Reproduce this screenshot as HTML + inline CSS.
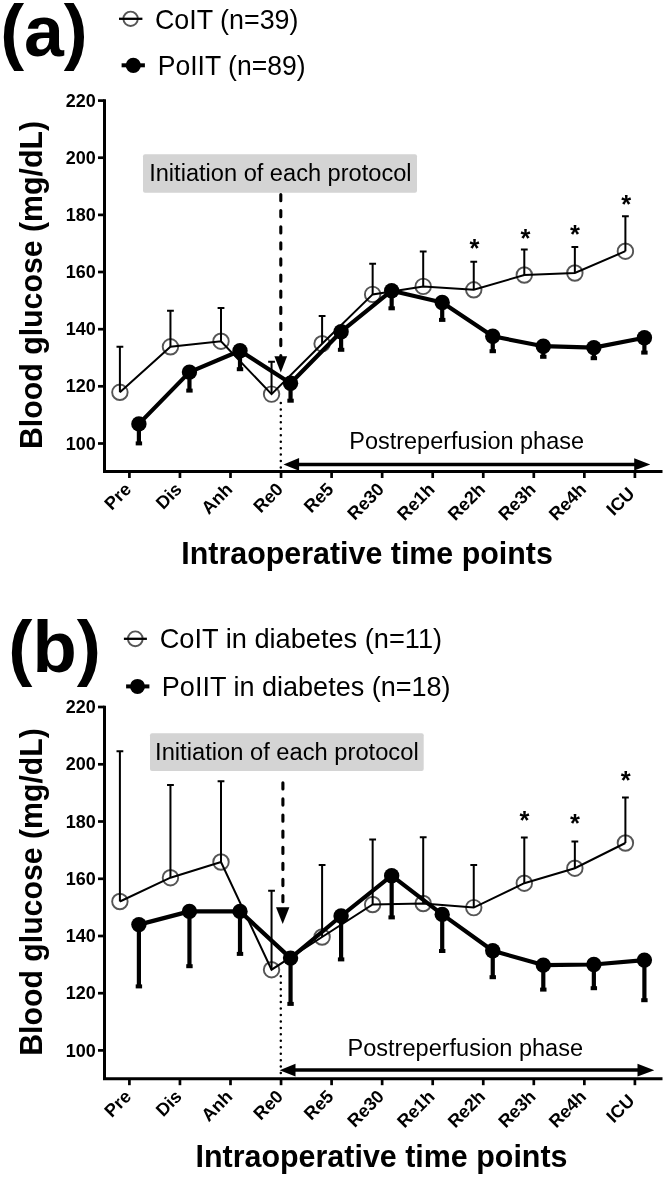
<!DOCTYPE html>
<html><head><meta charset="utf-8"><style>
html,body{margin:0;padding:0;background:#fff;}
svg{display:block;will-change:transform;}
text{font-family:"Liberation Sans", sans-serif;fill:#000;}
.yt{font-weight:bold;font-size:18px;}
.xt{font-weight:bold;font-size:18px;}
.star{font-size:25.5px;font-weight:bold;}
.lbl{font-weight:bold;font-size:71px;}
.leg{font-size:26px;}
.ttl{font-weight:bold;font-size:30px;}
.note{font-size:23px;}
</style></head><body>
<svg width="666" height="1177" viewBox="0 0 666 1177">
<rect width="666" height="1177" fill="#fff"/>
<!-- chart a -->
<text transform="translate(0.17,56.30) scale(1,1.0)" class="lbl" style="font-size:71.65px">(a)</text>
<circle cx="130.6" cy="18.8" r="7.2" fill="none" stroke="#555555" stroke-width="1.9"/>
<line x1="119" y1="18.8" x2="142.4" y2="18.8" stroke="#000" stroke-width="2.3"/>
<text transform="translate(154.96,28.70) scale(1,1.04)" class="leg" style="font-size:26.86px">CoIT (n=39)</text>
<line x1="121.6" y1="65.3" x2="144.9" y2="65.3" stroke="#000" stroke-width="4"/>
<circle cx="133.3" cy="65.3" r="7.6" fill="#000"/>
<text transform="translate(157.78,74.70) scale(1,1.04)" class="leg" style="font-size:26.54px">PoIIT (n=89)</text>
<rect x="143" y="154.3" width="274" height="38.5" rx="2" fill="#d4d4d4"/>
<text transform="translate(149.17,181.10) scale(1,1.04)" class="note" style="font-size:23.62px">Initiation of each protocol</text>
<line x1="280.8" y1="194.5" x2="280.8" y2="358" stroke="#000" stroke-width="3.1" stroke-dasharray="6.2,9.9" stroke-linecap="round"/>
<path d="M274.4 356.3 H287.1 L280.8 372.5 Z" fill="#000"/>
<line x1="280.8" y1="403" x2="280.8" y2="470" stroke="#000" stroke-width="2.5" stroke-dasharray="0,6.45" stroke-linecap="round"/>
<text transform="translate(349.32,448.50) scale(1,1.04)" class="note" style="font-size:23.46px">Postreperfusion phase</text>
<path d="M296 464.5 H636" stroke="#000" stroke-width="3.3"/>
<path d="M283.5 464.4 L299.1 458.1 V470.7 Z M650.3 464.4 L634.2 458.2 V470.6 Z" fill="#000"/>
<text transform="translate(41.70,449.02) rotate(-90) scale(1,1.04)" class="ttl" style="font-size:30.29px">Blood glucose (mg/dL)</text>
<text transform="translate(181.37,563.90) scale(1,1.04)" class="ttl" style="font-size:30.40px">Intraoperative time points</text>
<line x1="98" y1="100.6" x2="104.5" y2="100.6" stroke="#000" stroke-width="2.7"/>
<text transform="translate(95.8,106.7) scale(1,1.04)" class="yt" text-anchor="end">220</text>
<line x1="98" y1="157.7" x2="104.5" y2="157.7" stroke="#000" stroke-width="2.7"/>
<text transform="translate(95.8,163.8) scale(1,1.04)" class="yt" text-anchor="end">200</text>
<line x1="98" y1="214.9" x2="104.5" y2="214.9" stroke="#000" stroke-width="2.7"/>
<text transform="translate(95.8,221) scale(1,1.04)" class="yt" text-anchor="end">180</text>
<line x1="98" y1="272" x2="104.5" y2="272" stroke="#000" stroke-width="2.7"/>
<text transform="translate(95.8,278.1) scale(1,1.04)" class="yt" text-anchor="end">160</text>
<line x1="98" y1="329.2" x2="104.5" y2="329.2" stroke="#000" stroke-width="2.7"/>
<text transform="translate(95.8,335.3) scale(1,1.04)" class="yt" text-anchor="end">140</text>
<line x1="98" y1="386.3" x2="104.5" y2="386.3" stroke="#000" stroke-width="2.7"/>
<text transform="translate(95.8,392.4) scale(1,1.04)" class="yt" text-anchor="end">120</text>
<line x1="98" y1="443.5" x2="104.5" y2="443.5" stroke="#000" stroke-width="2.7"/>
<text transform="translate(95.8,449.6) scale(1,1.04)" class="yt" text-anchor="end">100</text>
<path d="M104.5 99.3 V471.5 H662.5" fill="none" stroke="#000" stroke-width="3"/>
<line x1="129.4" y1="471.5" x2="129.4" y2="478" stroke="#000" stroke-width="2.7"/>
<text transform="translate(132.4,490.5) rotate(-45)" class="xt" text-anchor="end">Pre</text>
<line x1="179.95" y1="471.5" x2="179.95" y2="478" stroke="#000" stroke-width="2.7"/>
<text transform="translate(182.95,490.5) rotate(-45)" class="xt" text-anchor="end">Dis</text>
<line x1="230.5" y1="471.5" x2="230.5" y2="478" stroke="#000" stroke-width="2.7"/>
<text transform="translate(233.5,490.5) rotate(-45)" class="xt" text-anchor="end">Anh</text>
<line x1="281.05" y1="471.5" x2="281.05" y2="478" stroke="#000" stroke-width="2.7"/>
<text transform="translate(284.05,490.5) rotate(-45)" class="xt" text-anchor="end">Re0</text>
<line x1="331.6" y1="471.5" x2="331.6" y2="478" stroke="#000" stroke-width="2.7"/>
<text transform="translate(334.6,490.5) rotate(-45)" class="xt" text-anchor="end">Re5</text>
<line x1="382.15" y1="471.5" x2="382.15" y2="478" stroke="#000" stroke-width="2.7"/>
<text transform="translate(385.15,490.5) rotate(-45)" class="xt" text-anchor="end">Re30</text>
<line x1="432.7" y1="471.5" x2="432.7" y2="478" stroke="#000" stroke-width="2.7"/>
<text transform="translate(435.7,490.5) rotate(-45)" class="xt" text-anchor="end">Re1h</text>
<line x1="483.25" y1="471.5" x2="483.25" y2="478" stroke="#000" stroke-width="2.7"/>
<text transform="translate(486.25,490.5) rotate(-45)" class="xt" text-anchor="end">Re2h</text>
<line x1="533.8" y1="471.5" x2="533.8" y2="478" stroke="#000" stroke-width="2.7"/>
<text transform="translate(536.8,490.5) rotate(-45)" class="xt" text-anchor="end">Re3h</text>
<line x1="584.35" y1="471.5" x2="584.35" y2="478" stroke="#000" stroke-width="2.7"/>
<text transform="translate(587.35,490.5) rotate(-45)" class="xt" text-anchor="end">Re4h</text>
<line x1="634.9" y1="471.5" x2="634.9" y2="478" stroke="#000" stroke-width="2.7"/>
<text transform="translate(635.6,494.7) rotate(-45)" class="xt" text-anchor="end">ICU</text>
<circle cx="119.9" cy="392.3" r="7.75" fill="none" stroke="#555555" stroke-width="1.9"/>
<circle cx="170.45" cy="346.8" r="7.75" fill="none" stroke="#555555" stroke-width="1.9"/>
<circle cx="221" cy="341.2" r="7.75" fill="none" stroke="#555555" stroke-width="1.9"/>
<circle cx="271.55" cy="394.1" r="7.75" fill="none" stroke="#555555" stroke-width="1.9"/>
<circle cx="322.1" cy="343.7" r="7.75" fill="none" stroke="#555555" stroke-width="1.9"/>
<circle cx="372.65" cy="294.4" r="7.75" fill="none" stroke="#555555" stroke-width="1.9"/>
<circle cx="423.2" cy="286.4" r="7.75" fill="none" stroke="#555555" stroke-width="1.9"/>
<circle cx="473.75" cy="289.8" r="7.75" fill="none" stroke="#555555" stroke-width="1.9"/>
<circle cx="524.3" cy="275" r="7.75" fill="none" stroke="#555555" stroke-width="1.9"/>
<circle cx="574.85" cy="273" r="7.75" fill="none" stroke="#555555" stroke-width="1.9"/>
<circle cx="625.4" cy="251.2" r="7.75" fill="none" stroke="#555555" stroke-width="1.9"/>
<path d="M119.9 392.3 V346.8 M116.5 346.8 H123.3" stroke="#000" stroke-width="2" fill="none"/>
<path d="M170.45 346.8 V310.8 M167.05 310.8 H173.85" stroke="#000" stroke-width="2" fill="none"/>
<path d="M221 341.2 V307.9 M217.6 307.9 H224.4" stroke="#000" stroke-width="2" fill="none"/>
<path d="M271.55 394.1 V361.7 M268.15 361.7 H274.95" stroke="#000" stroke-width="2" fill="none"/>
<path d="M322.1 343.7 V316.1 M318.7 316.1 H325.5" stroke="#000" stroke-width="2" fill="none"/>
<path d="M372.65 294.4 V263.7 M369.25 263.7 H376.05" stroke="#000" stroke-width="2" fill="none"/>
<path d="M423.2 286.4 V251.4 M419.8 251.4 H426.6" stroke="#000" stroke-width="2" fill="none"/>
<path d="M473.75 289.8 V261.7 M470.35 261.7 H477.15" stroke="#000" stroke-width="2" fill="none"/>
<path d="M524.3 275 V249.5 M520.9 249.5 H527.7" stroke="#000" stroke-width="2" fill="none"/>
<path d="M574.85 273 V247 M571.45 247 H578.25" stroke="#000" stroke-width="2" fill="none"/>
<path d="M625.4 251.2 V216.3 M622 216.3 H628.8" stroke="#000" stroke-width="2" fill="none"/>
<polyline points="119.9,392.3 170.45,346.8 221,341.2 271.55,394.1 322.1,343.7 372.65,294.4 423.2,286.4 473.75,289.8 524.3,275 574.85,273 625.4,251.2" fill="none" stroke="#000" stroke-width="2" stroke-linejoin="miter"/>
<path d="M138.9 423.9 V443" stroke="#000" stroke-width="4.2" fill="none"/>
<rect x="135.7" y="441.4" width="6.4" height="4" fill="#000"/>
<path d="M189.45 372.1 V390.2" stroke="#000" stroke-width="4.2" fill="none"/>
<rect x="186.25" y="388.6" width="6.4" height="4" fill="#000"/>
<path d="M240 350.7 V368.8" stroke="#000" stroke-width="4.2" fill="none"/>
<rect x="236.8" y="367.2" width="6.4" height="4" fill="#000"/>
<path d="M290.55 383.3 V400.3" stroke="#000" stroke-width="4.2" fill="none"/>
<rect x="287.35" y="398.7" width="6.4" height="4" fill="#000"/>
<path d="M341.1 331.7 V349.4" stroke="#000" stroke-width="4.2" fill="none"/>
<rect x="337.9" y="347.8" width="6.4" height="4" fill="#000"/>
<path d="M391.65 290.7 V307.9" stroke="#000" stroke-width="4.2" fill="none"/>
<rect x="388.45" y="306.3" width="6.4" height="4" fill="#000"/>
<path d="M442.2 302.5 V319.5" stroke="#000" stroke-width="4.2" fill="none"/>
<rect x="439" y="317.9" width="6.4" height="4" fill="#000"/>
<path d="M492.75 336.3 V350.8" stroke="#000" stroke-width="4.2" fill="none"/>
<rect x="489.55" y="349.2" width="6.4" height="4" fill="#000"/>
<path d="M543.3 346.2 V356.4" stroke="#000" stroke-width="4.2" fill="none"/>
<rect x="540.1" y="354.8" width="6.4" height="4" fill="#000"/>
<path d="M593.85 347.6 V357.8" stroke="#000" stroke-width="4.2" fill="none"/>
<rect x="590.65" y="356.2" width="6.4" height="4" fill="#000"/>
<path d="M644.4 337.8 V352.2" stroke="#000" stroke-width="4.2" fill="none"/>
<rect x="641.2" y="350.6" width="6.4" height="4" fill="#000"/>
<polyline points="138.9,423.9 189.45,372.1 240,350.7 290.55,383.3 341.1,331.7 391.65,290.7 442.2,302.5 492.75,336.3 543.3,346.2 593.85,347.6 644.4,337.8" fill="none" stroke="#000" stroke-width="4.2" stroke-linejoin="round"/>
<circle cx="138.9" cy="423.9" r="7.7" fill="#000"/>
<circle cx="189.45" cy="372.1" r="7.7" fill="#000"/>
<circle cx="240" cy="350.7" r="7.7" fill="#000"/>
<circle cx="290.55" cy="383.3" r="7.7" fill="#000"/>
<circle cx="341.1" cy="331.7" r="7.7" fill="#000"/>
<circle cx="391.65" cy="290.7" r="7.7" fill="#000"/>
<circle cx="442.2" cy="302.5" r="7.7" fill="#000"/>
<circle cx="492.75" cy="336.3" r="7.7" fill="#000"/>
<circle cx="543.3" cy="346.2" r="7.7" fill="#000"/>
<circle cx="593.85" cy="347.6" r="7.7" fill="#000"/>
<circle cx="644.4" cy="337.8" r="7.7" fill="#000"/>
<text x="469.53" y="257.03" class="star">*</text>
<text x="520.43" y="246.53" class="star">*</text>
<text x="570.03" y="243.33" class="star">*</text>
<text x="621.33" y="212.63" class="star">*</text>
<!-- chart b -->
<text transform="translate(8.28,671.50) scale(1,1.0)" class="lbl" style="font-size:72.50px">(b)</text>
<circle cx="135.3" cy="638.8" r="7.4" fill="none" stroke="#555555" stroke-width="1.9"/>
<line x1="123.9" y1="638.8" x2="146.9" y2="638.8" stroke="#000" stroke-width="2.3"/>
<text transform="translate(159.74,647.90) scale(1,1.04)" class="leg" style="font-size:27.20px">CoIT in diabetes (n=11)</text>
<line x1="126.1" y1="686.4" x2="149.4" y2="686.4" stroke="#000" stroke-width="4"/>
<circle cx="137.5" cy="686.4" r="7.5" fill="#000"/>
<text transform="translate(161.84,695.50) scale(1,1.04)" class="leg" style="font-size:27.04px">PoIIT in diabetes (n=18)</text>
<rect x="150" y="733.2" width="273.7" height="37.7" rx="2" fill="#d4d4d4"/>
<text transform="translate(155.07,759.60) scale(1,1.04)" class="note" style="font-size:23.72px">Initiation of each protocol</text>
<line x1="282.9" y1="782.8" x2="282.9" y2="903" stroke="#000" stroke-width="3.1" stroke-dasharray="6.2,9.9" stroke-linecap="round"/>
<path d="M276 907.3 H289.4 L282.7 924 Z" fill="#000"/>
<line x1="280.8" y1="976.3" x2="280.8" y2="1076" stroke="#000" stroke-width="2.5" stroke-dasharray="0,6.45" stroke-linecap="round"/>
<text transform="translate(347.52,1056.40) scale(1,1.04)" class="note" style="font-size:23.55px">Postreperfusion phase</text>
<path d="M293 1070 H640" stroke="#000" stroke-width="3.5"/>
<path d="M279.6 1070.2 L295.5 1063.7 V1076.6 Z M654.3 1070.2 L637.5 1063.7 V1076.6 Z" fill="#000"/>
<text transform="translate(41.90,1055.82) rotate(-90) scale(1,1.04)" class="ttl" style="font-size:30.25px">Blood glucose (mg/dL)</text>
<text transform="translate(195.47,1166.60) scale(1,1.04)" class="ttl" style="font-size:30.44px">Intraoperative time points</text>
<line x1="98" y1="707" x2="104.5" y2="707" stroke="#000" stroke-width="2.7"/>
<text transform="translate(95.8,713.1) scale(1,1.04)" class="yt" text-anchor="end">220</text>
<line x1="98" y1="764.3" x2="104.5" y2="764.3" stroke="#000" stroke-width="2.7"/>
<text transform="translate(95.8,770.4) scale(1,1.04)" class="yt" text-anchor="end">200</text>
<line x1="98" y1="821.5" x2="104.5" y2="821.5" stroke="#000" stroke-width="2.7"/>
<text transform="translate(95.8,827.6) scale(1,1.04)" class="yt" text-anchor="end">180</text>
<line x1="98" y1="878.8" x2="104.5" y2="878.8" stroke="#000" stroke-width="2.7"/>
<text transform="translate(95.8,884.9) scale(1,1.04)" class="yt" text-anchor="end">160</text>
<line x1="98" y1="936" x2="104.5" y2="936" stroke="#000" stroke-width="2.7"/>
<text transform="translate(95.8,942.1) scale(1,1.04)" class="yt" text-anchor="end">140</text>
<line x1="98" y1="993.2" x2="104.5" y2="993.2" stroke="#000" stroke-width="2.7"/>
<text transform="translate(95.8,999.3) scale(1,1.04)" class="yt" text-anchor="end">120</text>
<line x1="98" y1="1050.4" x2="104.5" y2="1050.4" stroke="#000" stroke-width="2.7"/>
<text transform="translate(95.8,1056.5) scale(1,1.04)" class="yt" text-anchor="end">100</text>
<path d="M104.5 705.7 V1078.7 H662.5" fill="none" stroke="#000" stroke-width="3"/>
<line x1="129.4" y1="1078.7" x2="129.4" y2="1085.2" stroke="#000" stroke-width="2.7"/>
<text transform="translate(132.4,1097.7) rotate(-45)" class="xt" text-anchor="end">Pre</text>
<line x1="179.95" y1="1078.7" x2="179.95" y2="1085.2" stroke="#000" stroke-width="2.7"/>
<text transform="translate(182.95,1097.7) rotate(-45)" class="xt" text-anchor="end">Dis</text>
<line x1="230.5" y1="1078.7" x2="230.5" y2="1085.2" stroke="#000" stroke-width="2.7"/>
<text transform="translate(233.5,1097.7) rotate(-45)" class="xt" text-anchor="end">Anh</text>
<line x1="281.05" y1="1078.7" x2="281.05" y2="1085.2" stroke="#000" stroke-width="2.7"/>
<text transform="translate(284.05,1097.7) rotate(-45)" class="xt" text-anchor="end">Re0</text>
<line x1="331.6" y1="1078.7" x2="331.6" y2="1085.2" stroke="#000" stroke-width="2.7"/>
<text transform="translate(334.6,1097.7) rotate(-45)" class="xt" text-anchor="end">Re5</text>
<line x1="382.15" y1="1078.7" x2="382.15" y2="1085.2" stroke="#000" stroke-width="2.7"/>
<text transform="translate(385.15,1097.7) rotate(-45)" class="xt" text-anchor="end">Re30</text>
<line x1="432.7" y1="1078.7" x2="432.7" y2="1085.2" stroke="#000" stroke-width="2.7"/>
<text transform="translate(435.7,1097.7) rotate(-45)" class="xt" text-anchor="end">Re1h</text>
<line x1="483.25" y1="1078.7" x2="483.25" y2="1085.2" stroke="#000" stroke-width="2.7"/>
<text transform="translate(486.25,1097.7) rotate(-45)" class="xt" text-anchor="end">Re2h</text>
<line x1="533.8" y1="1078.7" x2="533.8" y2="1085.2" stroke="#000" stroke-width="2.7"/>
<text transform="translate(536.8,1097.7) rotate(-45)" class="xt" text-anchor="end">Re3h</text>
<line x1="584.35" y1="1078.7" x2="584.35" y2="1085.2" stroke="#000" stroke-width="2.7"/>
<text transform="translate(587.35,1097.7) rotate(-45)" class="xt" text-anchor="end">Re4h</text>
<line x1="634.9" y1="1078.7" x2="634.9" y2="1085.2" stroke="#000" stroke-width="2.7"/>
<text transform="translate(635.6,1101.9) rotate(-45)" class="xt" text-anchor="end">ICU</text>
<circle cx="119.9" cy="901.5" r="7.75" fill="none" stroke="#555555" stroke-width="1.9"/>
<circle cx="170.45" cy="877.7" r="7.75" fill="none" stroke="#555555" stroke-width="1.9"/>
<circle cx="221" cy="862" r="7.75" fill="none" stroke="#555555" stroke-width="1.9"/>
<circle cx="271.55" cy="969.7" r="7.75" fill="none" stroke="#555555" stroke-width="1.9"/>
<circle cx="322.1" cy="937" r="7.75" fill="none" stroke="#555555" stroke-width="1.9"/>
<circle cx="372.65" cy="904.5" r="7.75" fill="none" stroke="#555555" stroke-width="1.9"/>
<circle cx="423.2" cy="903.5" r="7.75" fill="none" stroke="#555555" stroke-width="1.9"/>
<circle cx="473.75" cy="907.6" r="7.75" fill="none" stroke="#555555" stroke-width="1.9"/>
<circle cx="524.3" cy="883.2" r="7.75" fill="none" stroke="#555555" stroke-width="1.9"/>
<circle cx="574.85" cy="868.2" r="7.75" fill="none" stroke="#555555" stroke-width="1.9"/>
<circle cx="625.4" cy="843" r="7.75" fill="none" stroke="#555555" stroke-width="1.9"/>
<path d="M119.9 901.5 V751.2 M116.5 751.2 H123.3" stroke="#000" stroke-width="2" fill="none"/>
<path d="M170.45 877.7 V784.9 M167.05 784.9 H173.85" stroke="#000" stroke-width="2" fill="none"/>
<path d="M221 862 V781.3 M217.6 781.3 H224.4" stroke="#000" stroke-width="2" fill="none"/>
<path d="M271.55 969.7 V890.8 M268.15 890.8 H274.95" stroke="#000" stroke-width="2" fill="none"/>
<path d="M322.1 937 V864.9 M318.7 864.9 H325.5" stroke="#000" stroke-width="2" fill="none"/>
<path d="M372.65 904.5 V839.6 M369.25 839.6 H376.05" stroke="#000" stroke-width="2" fill="none"/>
<path d="M423.2 903.5 V837.3 M419.8 837.3 H426.6" stroke="#000" stroke-width="2" fill="none"/>
<path d="M473.75 907.6 V864.9 M470.35 864.9 H477.15" stroke="#000" stroke-width="2" fill="none"/>
<path d="M524.3 883.2 V837.4 M520.9 837.4 H527.7" stroke="#000" stroke-width="2" fill="none"/>
<path d="M574.85 868.2 V841.6 M571.45 841.6 H578.25" stroke="#000" stroke-width="2" fill="none"/>
<path d="M625.4 843 V797.5 M622 797.5 H628.8" stroke="#000" stroke-width="2" fill="none"/>
<polyline points="119.9,901.5 170.45,877.7 221,862 271.55,969.7 322.1,937 372.65,904.5 423.2,903.5 473.75,907.6 524.3,883.2 574.85,868.2 625.4,843" fill="none" stroke="#000" stroke-width="2" stroke-linejoin="miter"/>
<path d="M138.9 924.6 V986" stroke="#000" stroke-width="4.2" fill="none"/>
<rect x="135.7" y="984.4" width="6.4" height="4" fill="#000"/>
<path d="M189.45 911.4 V965.8" stroke="#000" stroke-width="4.2" fill="none"/>
<rect x="186.25" y="964.2" width="6.4" height="4" fill="#000"/>
<path d="M240 911.4 V953.5" stroke="#000" stroke-width="4.2" fill="none"/>
<rect x="236.8" y="951.9" width="6.4" height="4" fill="#000"/>
<path d="M290.55 958.1 V1003.5" stroke="#000" stroke-width="4.2" fill="none"/>
<rect x="287.35" y="1001.9" width="6.4" height="4" fill="#000"/>
<path d="M341.1 916 V959" stroke="#000" stroke-width="4.2" fill="none"/>
<rect x="337.9" y="957.4" width="6.4" height="4" fill="#000"/>
<path d="M391.65 875.7 V917" stroke="#000" stroke-width="4.2" fill="none"/>
<rect x="388.45" y="915.4" width="6.4" height="4" fill="#000"/>
<path d="M442.2 914.4 V950.6" stroke="#000" stroke-width="4.2" fill="none"/>
<rect x="439" y="949" width="6.4" height="4" fill="#000"/>
<path d="M492.75 950.8 V976.8" stroke="#000" stroke-width="4.2" fill="none"/>
<rect x="489.55" y="975.2" width="6.4" height="4" fill="#000"/>
<path d="M543.3 965.1 V989.2" stroke="#000" stroke-width="4.2" fill="none"/>
<rect x="540.1" y="987.6" width="6.4" height="4" fill="#000"/>
<path d="M593.85 964.5 V987.8" stroke="#000" stroke-width="4.2" fill="none"/>
<rect x="590.65" y="986.2" width="6.4" height="4" fill="#000"/>
<path d="M644.4 960.1 V999.8" stroke="#000" stroke-width="4.2" fill="none"/>
<rect x="641.2" y="998.2" width="6.4" height="4" fill="#000"/>
<polyline points="138.9,924.6 189.45,911.4 240,911.4 290.55,958.1 341.1,916 391.65,875.7 442.2,914.4 492.75,950.8 543.3,965.1 593.85,964.5 644.4,960.1" fill="none" stroke="#000" stroke-width="4.2" stroke-linejoin="round"/>
<circle cx="138.9" cy="924.6" r="7.7" fill="#000"/>
<circle cx="189.45" cy="911.4" r="7.7" fill="#000"/>
<circle cx="240" cy="911.4" r="7.7" fill="#000"/>
<circle cx="290.55" cy="958.1" r="7.7" fill="#000"/>
<circle cx="341.1" cy="916" r="7.7" fill="#000"/>
<circle cx="391.65" cy="875.7" r="7.7" fill="#000"/>
<circle cx="442.2" cy="914.4" r="7.7" fill="#000"/>
<circle cx="492.75" cy="950.8" r="7.7" fill="#000"/>
<circle cx="543.3" cy="965.1" r="7.7" fill="#000"/>
<circle cx="593.85" cy="964.5" r="7.7" fill="#000"/>
<circle cx="644.4" cy="960.1" r="7.7" fill="#000"/>
<text x="519.53" y="829.33" class="star">*</text>
<text x="569.93" y="832.33" class="star">*</text>
<text x="620.83" y="789.33" class="star">*</text>
</svg>
</body></html>
